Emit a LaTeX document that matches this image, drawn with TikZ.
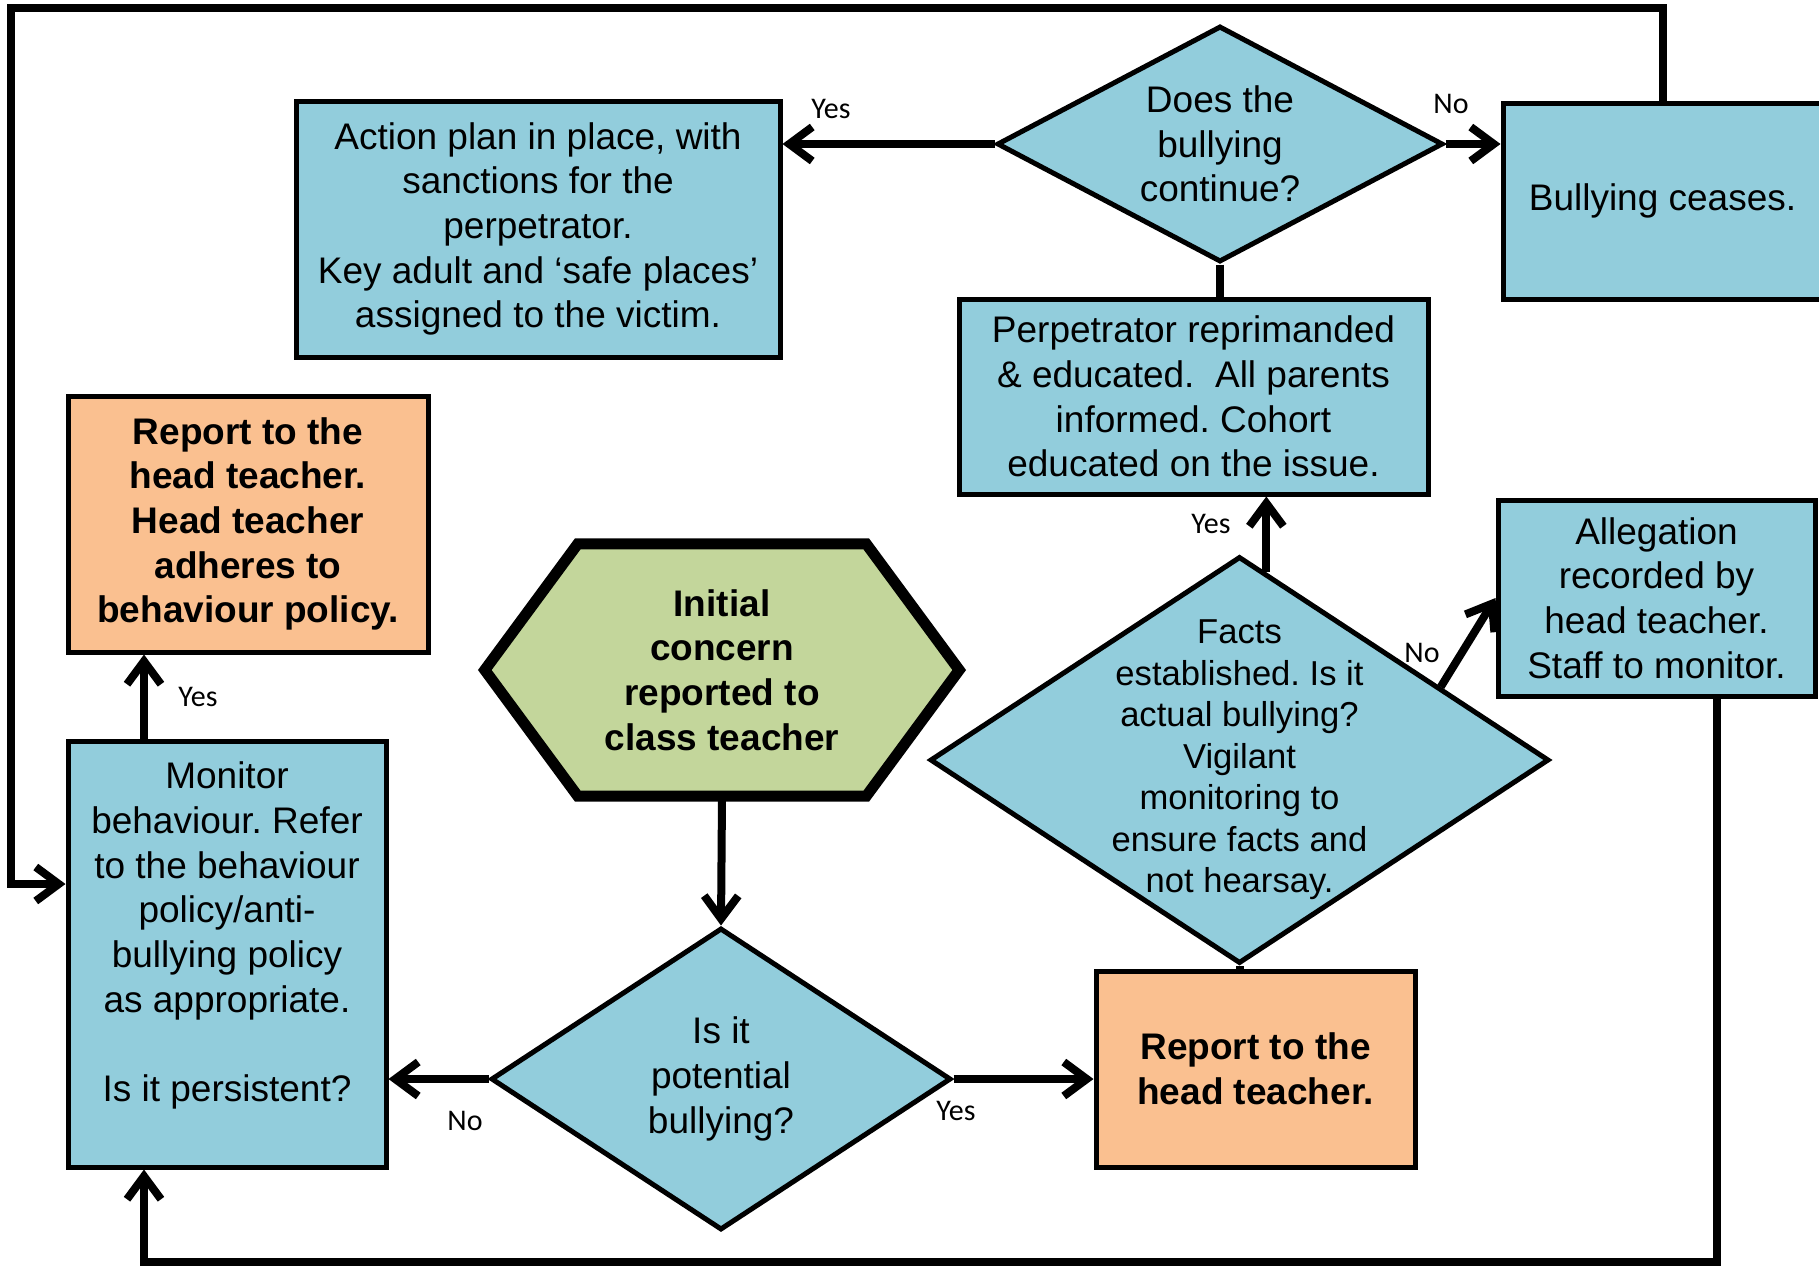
\documentclass[tikz,border=0pt]{standalone}
\usepackage{fontspec}
\setmainfont{Liberation Sans}
\newfontfamily\lblfont{Carlito}
\usetikzlibrary{arrows.meta,shapes.geometric,calc,backgrounds}
\definecolor{boxblue}{HTML}{92CDDC}
\definecolor{reporange}{HTML}{FAC090}
\definecolor{startgreen}{HTML}{C3D69B}
\newcommand{\boxfont}{\fontsize{37}{44.7}\selectfont}
\frenchspacing

\begin{document}
\begin{tikzpicture}[
    x=1pt, y=-1pt,
    every node/.style={font=\boxfont},
    infobox/.style={
        draw, fill=#1, line width=5pt,
        inner sep=0pt, align=center, font=\boxfont
    },
    report/.style={
        infobox=reporange, font=\boxfont\bfseries
    },
    decision/.style={
        draw, fill=boxblue, diamond, line width=5pt,
        inner sep=0pt, align=center
    },
    arr/.style={-{Straight Barb[length=23pt, width=34pt]}, line width=8pt},
    conn/.style={line width=8pt},
    lbl/.style={font=\lblfont\fontsize{30}{36}\selectfont},
]
\useasboundingbox (0,0) rectangle (1819,1267);

% === Top row ===
\node[infobox=boxblue, minimum width=484pt, minimum height=256pt] (plan) at (538,229)
    {Action plan in place, with\\sanctions for the\\perpetrator.\\Key adult and ‘safe places’\\assigned to the victim.};
\node[decision, aspect=1.9, minimum width=446pt, minimum height=236pt] (does) at (1220,144)
    {Does the\\bullying\\continue?};
\node[infobox=boxblue, minimum width=319pt, minimum height=196pt] (cease) at (1662.5,201)
    {Bullying ceases.};
\node[infobox=boxblue, minimum width=469pt, minimum height=195pt] (perp) at (1193.5,396.5)
    {Perpetrator reprimanded\\\& educated.\ \ All parents\\informed. Cohort\\educated on the issue.};

% === Left column ===
\node[report, minimum width=360pt, minimum height=256pt] (rep1) at (248,524)
    {Report to the\\head teacher.\\Head teacher\\adheres to\\behaviour policy.};
\node[infobox=boxblue, minimum width=318pt, minimum height=426pt] (monitor) at (227,954)
    {Monitor\\behaviour. Refer\\to the behaviour\\policy/anti-\\bullying policy\\as appropriate.\\~\\Is it persistent?\\~};

% === Start ===
\node[minimum width=474pt, minimum height=252pt, inner sep=0pt, align=center,
      font=\boxfont\bfseries] (init) at (722,670)
    {Initial\\concern\\reported to\\class teacher};
\begin{scope}[on background layer]
\draw[line width=11pt, fill=startgreen]
    (init.west) -- ([xshift=93pt]init.north west) -- ([xshift=-93pt]init.north east)
    -- (init.east) -- ([xshift=-93pt]init.south east) -- ([xshift=93pt]init.south west) -- cycle;
\end{scope}

% === Bottom row ===
\node[decision, minimum width=460pt, minimum height=302pt] (pot) at (721,1079)
    {Is it\\potential\\bullying?};
\node[report, minimum width=319pt, minimum height=196pt] (rep2) at (1255.5,1069)
    {Report to the\\head teacher.};

% === Right column ===
\node[decision, minimum width=619pt, minimum height=407pt] (facts) at (1239.5,760) {};
\node[align=center, font=\fontsize{34.6}{41.5}\selectfont] (factstext) at (facts)
    {Facts\\established. Is it\\actual bullying?\\Vigilant\\monitoring to\\ensure facts and\\not hearsay.};
\node[infobox=boxblue, minimum width=317pt, minimum height=196pt] (alleg) at (1656.5,598)
    {Allegation\\recorded by\\head teacher.\\Staff to monitor.};

% === Connectors ===
\coordinate (topleft) at (10.5,8);
\coordinate (loopin) at (10.5,884);
\coordinate (botleft) at (144,1262);
\coordinate (factsyes) at ($(facts.north)!0.086!(facts.east)$);
\coordinate (factsno) at ($(facts.north)!0.645!(facts.east)$);

\draw[arr] (cease.north) |- (topleft) -- (loopin) -- (loopin -| monitor.west);
\draw[arr] (does.west) -- (does.west -| plan.east);
\draw[arr] (does.east) -- (does.east -| cease.west);
\draw[conn] (does.south) -- (does.south |- perp.north);
\draw[arr] (factsyes) -- (factsyes |- perp.south);
\draw[arr] (factsno) -- (alleg.west);
\draw[conn] (facts.south) -- (facts.south |- rep2.north);
\draw[arr] (init.south) -- (pot.north);
\draw[arr] (pot.west) -- (pot.west -| monitor.east);
\draw[arr] (pot.east) -- (pot.east -| rep2.west);
\draw[arr] (botleft |- monitor.north) -- (botleft |- rep1.south);
\draw[arr] ([xshift=60pt]alleg.south) |- (botleft) -- (botleft |- monitor.south);

% Yes / No labels
\node[lbl] (lplanyes) at (831,109) {Yes};
\node[lbl] (lceaseno) at (1451,104) {No};
\node[lbl] (lperpyes) at (1211,524) {Yes};
\node[lbl] (lallegno) at (1422,653) {No};
\node[lbl] (lrepyes) at (198,697) {Yes};
\node[lbl] (lmonno) at (465,1121) {No};
\node[lbl] (lrep2yes) at (956,1111) {Yes};

\end{tikzpicture}
\end{document}
